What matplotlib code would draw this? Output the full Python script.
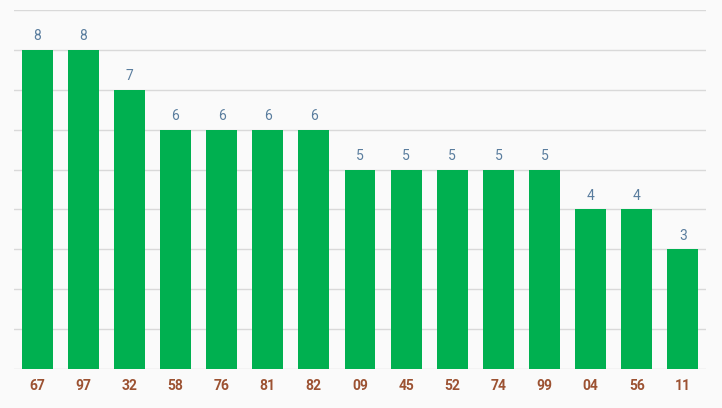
import matplotlib.pyplot as plt

# data
labels = ['67', '97', '32', '58', '76', '81', '82', '09', '45', '52', '74', '99', '04', '56', '11']
counts = [8, 8, 7, 6, 6, 6, 6, 5, 5, 5, 5, 5, 4, 4, 3]

plt.rcParams['font.family'] = ['Roboto', 'DejaVu Sans']

W, H = 722, 408
fig = plt.figure(figsize=(W / 100, H / 100), dpi=100, facecolor='#fafafa')
ax = fig.add_axes([14 / W, (H - 369) / H, 692 / W, 359 / H])
ax.set_facecolor('#fafafa')

x = range(len(labels))
ax.bar(x, counts, width=0.67, color='#00b050', zorder=2)

for i, v in enumerate(counts):
    ax.text(i, v + 0.17, str(v), ha='center', va='bottom', fontsize=10, color='#5a7d9e')

ax.set_xlim(-0.5, len(labels) - 0.5)
ax.set_ylim(0, 9)
ax.set_yticks(range(10))
ax.set_yticklabels([])
ax.tick_params(axis='y', length=0)
ax.grid(axis='y', color='#d9d9d9', linewidth=1, zorder=0)

ax.set_xticks(list(x))
ax.set_xticklabels(labels, fontsize=10, fontweight='bold', color='#9c5232')
ax.tick_params(axis='x', length=0, pad=7)

for s in ax.spines.values():
    s.set_visible(False)

fig.savefig('out.png', dpi=100, facecolor=fig.get_facecolor())
